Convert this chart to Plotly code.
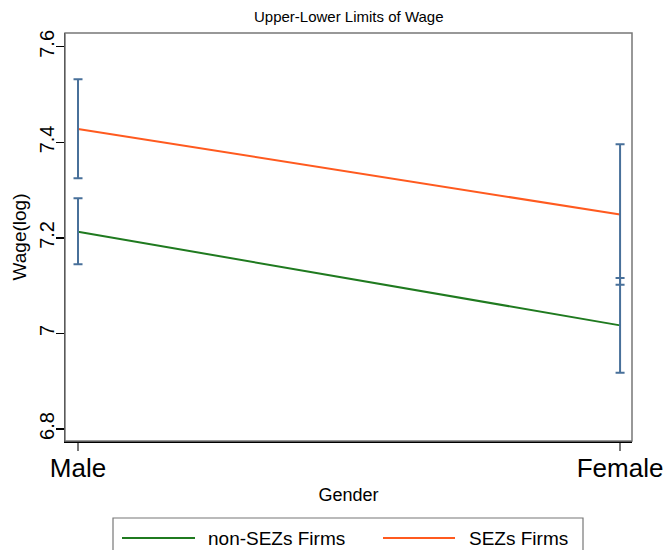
import plotly.graph_objects as go

# ---- data ----
genders = ["Male", "Female"]
gender_pos = [0, 1]

nonsez_mean = [7.213, 7.017]
nonsez_lo = [7.145, 6.918]
nonsez_hi = [7.283, 7.116]

sez_mean = [7.428, 7.249]
sez_lo = [7.325, 7.102]
sez_hi = [7.532, 7.396]

y_ticks = [6.8, 7.0, 7.2, 7.4, 7.6]
y_ticktext = ["6.8", "7", "7.2", "7.4", "7.6"]

series_names = ["non-SEZs Firms", "SEZs Firms"]

GREEN = "#1f7a1f"
ORANGE = "#ff5a1f"
CAP = "#48709a"
FONT = "Liberation Sans, Arial, Helvetica, sans-serif"

W, H = 667, 550
L, R, T, B = 65, 35, 33, 109
PW, PH = W - L - R, H - T - B


def px_x(p):
    return (p - L) / PW


def px_y(p):
    return (T + PH - p) / PH


fig = go.Figure()

fig.add_trace(go.Scatter(x=gender_pos, y=nonsez_mean, mode="lines",
                         line=dict(color=GREEN, width=2), name=series_names[0],
                         showlegend=False))
fig.add_trace(go.Scatter(x=gender_pos, y=sez_mean, mode="lines",
                         line=dict(color=ORANGE, width=2), name=series_names[1],
                         showlegend=False))

for mean, lo, hi in [(nonsez_mean, nonsez_lo, nonsez_hi), (sez_mean, sez_lo, sez_hi)]:
    fig.add_trace(go.Scatter(
        x=gender_pos, y=mean, mode="markers",
        marker=dict(size=1, opacity=0),
        error_y=dict(type="data", symmetric=False,
                     array=[h - m for h, m in zip(hi, mean)],
                     arrayminus=[m - l for m, l in zip(mean, lo)],
                     color=CAP, thickness=2, width=4.5),
        showlegend=False, hoverinfo="skip"))

shapes = []
# frame (gray top/right)
shapes.append(dict(type="rect", xref="paper", yref="paper", x0=0, x1=1, y0=0, y1=1,
                   line=dict(color="#777777", width=1.5), layer="above"))
# legend box
shapes.append(dict(type="rect", xref="paper", yref="paper",
                   x0=px_x(113), x1=px_x(583), y0=px_y(575), y1=px_y(518),
                   line=dict(color="#777777", width=1.2), fillcolor="white", layer="above"))
ly = px_y(538)
shapes.append(dict(type="line", xref="paper", yref="paper", x0=px_x(122), x1=px_x(195),
                   y0=ly, y1=ly, line=dict(color=GREEN, width=2)))
shapes.append(dict(type="line", xref="paper", yref="paper", x0=px_x(383), x1=px_x(455),
                   y0=ly, y1=ly, line=dict(color=ORANGE, width=2)))

annotations = [
    dict(text=series_names[0], xref="paper", yref="paper", x=px_x(206), y=ly,
         xanchor="left", yanchor="middle", showarrow=False,
         font=dict(family=FONT, size=19, color="black")),
    dict(text=series_names[1], xref="paper", yref="paper", x=px_x(467), y=ly,
         xanchor="left", yanchor="middle", showarrow=False,
         font=dict(family=FONT, size=19, color="black")),
    dict(text="Upper-Lower Limits of Wage", xref="paper", yref="paper", x=0.5,
         y=px_y(17), xanchor="center", yanchor="middle", showarrow=False,
         font=dict(family=FONT, size=15, color="black")),
]

fig.update_layout(
    width=W, height=H,
    margin=dict(l=L, r=R, t=T, b=B, pad=0),
    paper_bgcolor="white", plot_bgcolor="white",
    font=dict(family=FONT, color="black"),
    shapes=shapes, annotations=annotations,
    showlegend=False,
)

fig.update_xaxes(
    range=[-0.024, 1.022], tickmode="array", tickvals=gender_pos, ticktext=genders,
    showgrid=False, zeroline=False, automargin=False,
    showline=True, linecolor="black", linewidth=1.5,
    ticks="outside", ticklen=8, tickcolor="#777777", tickwidth=1.5,
    tickfont=dict(size=26, family=FONT, color="black"),
    ticklabelstandoff=-5,
    title=dict(text="Gender", font=dict(size=18, family=FONT, color="black"), standoff=6),
)
fig.update_yaxes(
    range=[6.775, 7.629], tickmode="array", tickvals=y_ticks, ticktext=y_ticktext,
    showgrid=False, zeroline=False, automargin=False,
    showline=True, linecolor="black", linewidth=1.5,
    ticks="outside", ticklen=8, tickcolor="black", tickwidth=1.2,
    tickangle=-90, ticklabelstandoff=-6,
    tickfont=dict(size=20, family=FONT, color="black"),
    title=dict(text="Wage(log)", font=dict(size=19, family=FONT, color="black"), standoff=4),
)

fig.write_html(
    "out.html",
    config={"displayModeBar": False, "staticPlot": True},
    post_script="document.body.style.margin='0';document.body.style.overflow='hidden';",
)
